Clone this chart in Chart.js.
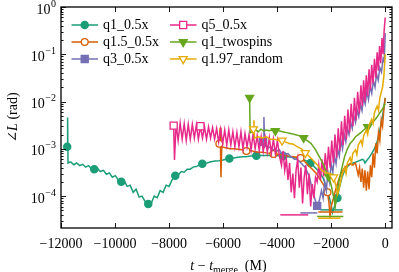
<!DOCTYPE html>
<html lang="en">
<head>
  <meta charset="UTF-8" />
  <title>Angle of L vs time to merger</title>
  <script src="https://cdn.jsdelivr.net/npm/chart.js"></script>
  <style>
    body { margin: 0; background: #fff; }
    .chart-container { position: relative; width: 399px; height: 272px; }
  </style>
</head>
<body>
  <div class="chart-container"><canvas id="angleChart"></canvas></div>

  <script>
    // Series names and colours (Dark2)
    const seriesNames = ['q1_0.5x', 'q1.5_0.5x', 'q3_0.5x', 'q5_0.5x', 'q1_twospins', 'q1.97_random'];
    const seriesColors = ['#1b9e77', '#d95f02', '#7570b3', '#e7298a', '#66a61e', '#e6ab02'];

    // Axis ticks
    const xTicks = [-12000, -10000, -8000, -6000, -4000, -2000, 0];
    const yTickExps = [0, -1, -2, -3, -4];

    // q1_0.5x
    const q1Time = [-11770, -11755, -11740, -11640, -11530, -11420, -11310, -11200, -11090, -10980, -10870, -10770,
      -10650, -10540, -10430, -10320, -10210, -10100, -9990, -9880, -9770, -9660, -9550, -9440, -9330, -9220, -9110,
      -9000, -8880, -8770, -8660, -8550, -8440, -8330, -8220, -8110, -8000, -7890, -7770, -7660, -7550, -7440, -7330,
      -7220, -7110, -7000, -6880, -6770, -6600, -6450, -6300, -6150, -6000, -5900, -5770, -5600, -5450, -5300, -5150,
      -5000, -4900, -4770, -4600, -4450, -4300, -4150, -4000, -3900, -3770, -3600, -3450, -3300, -3150, -3000, -2900,
      -2770, -2650, -2500, -2400, -2300, -2200, -2100, -2000, -1950, -1880, -1770, -1700, -1600, -1500, -1400, -1300,
      -1200, -1100, -1000, -900, -850, -800, -750, -700, -600, -500, -400, -300, -200, -100, 0];
    const q1Angle = [0.0011, 0.0046, 0.0005, 0.00053, 0.00046, 0.0005, 0.00044, 0.00047, 0.00041, 0.00044, 0.00038, 0.00037,
      0.00038, 0.00033, 0.00035, 0.00029, 0.00031, 0.00025, 0.00027, 0.00022, 0.0002, 0.00021, 0.00016, 0.00017, 0.00012,
      0.00014, 0.000095, 0.0001, 0.000075, 0.000068, 0.00007, 0.0001, 0.000092, 0.00013, 0.00012, 0.00017, 0.00016,
      0.00022, 0.00027, 0.00028, 0.00033, 0.00032, 0.00037, 0.00037, 0.00041, 0.00042, 0.00045, 0.00048, 0.0005, 0.00053,
      0.00055, 0.00056, 0.00058, 0.0006, 0.00062, 0.00064, 0.00066, 0.00068, 0.00068, 0.0007, 0.0007, 0.00071, 0.00072,
      0.00072, 0.00073, 0.00072, 0.00072, 0.0007, 0.0007, 0.00068, 0.00066, 0.00064, 0.00062, 0.00058, 0.00055, 0.0005,
      0.00043, 0.00035, 0.0003, 0.00024, 0.00017, 0.00011, 0.000065, 0.000045, 0.00006, 0.000091, 0.00015, 0.00025,
      0.00035, 0.00042, 0.00048, 0.0005, 0.00052, 0.00055, 0.00058, 0.0006, 0.00058, 0.0005, 0.00055, 0.00065, 0.0008,
      0.001, 0.0014, 0.0025, 0.005, 0.012];
    const q1Marks = [-11770, -10770, -9770, -8770, -7770, -6770, -5770, -4770, -3770, -2770, -1770];

    // q1.5_0.5x
    const q15Time = [-6140, -6110, -6080, -6050, -5900, -5750, -5600, -5450, -5300, -5137, -5000, -4850, -4700, -4550,
      -4400, -4250, -4137, -4000, -3850, -3700, -3550, -3400, -3250, -3137, -3000, -2850, -2700, -2550, -2400, -2250,
      -2137, -2080, -2040, -2000, -1900, -1800, -1700, -1600, -1500, -1400, -1300, -1200, -1100, -1000, -950, -900,
      -850, -800, -750, -700, -650, -600, -550, -500, -450, -400, -350, -300, -250, -200, -150, -100, -50, 0];
    const q15Angle = [0.00128, 0.0028, 0.00025, 0.0011, 0.00105, 0.001, 0.001, 0.00098, 0.00095, 0.0009, 0.00092,
      0.00088, 0.00085, 0.00085, 0.00082, 0.0008, 0.00078, 0.00077, 0.00075, 0.00072, 0.0007, 0.00068, 0.00066, 0.00064,
      0.00055, 0.00045, 0.00037, 0.0003, 0.00022, 0.00016, 0.00012, 0.00007, 0.000035, 0.00006, 0.0001, 0.00016, 0.00024,
      0.00033, 0.0004, 0.00045, 0.00048, 0.00045, 0.0005, 0.00028, 0.0004, 0.0002, 0.00038, 0.00015, 0.00035, 0.00013,
      0.00033, 0.00014, 0.00045, 0.00025, 0.0008, 0.0004, 0.0013, 0.0008, 0.0022, 0.0015, 0.004, 0.003, 0.007, 0.012];
    const q15Marks = [-6140, -5137, -4137, -3137, -2137];

    // q3_0.5x
    const q3Time = [-4520, -4490, -4460, -4400, -4320, -4240, -4160, -4080, -4000, -3920, -3840, -3760, -3680, -3600,
      -3520, -3440, -3360, -3280, -3200, -3120, -3040, -2960, -2880, -2800, -2720, -2640, -2520, -2440, -2360, -2300,
      -2240, -2180, -2120, -2060, -2000, -1940, -1880, -1820, -1760, -1700, -1640, -1580, -1520, -1460, -1400, -1340,
      -1280, -1220, -1160, -1100, -1040, -980, -920, -860, -800, -740, -680, -620, -560, -500, -440, -380, -320, -260,
      -200, -140, -80, -40, 0];
    const q3Angle = [0.0014, 0.0047, 0.0011, 0.0012, 0.00105, 0.0011, 0.00095, 0.001, 0.0009, 0.00095, 0.0008, 0.00085,
      0.00075, 0.0008, 0.0007, 0.00065, 0.0006, 0.0006, 0.00055, 0.0005, 0.00045, 0.0004, 0.00032, 0.00025, 0.00015,
      0.0001, 0.000062, 0.00008, 0.00013, 0.00009, 0.0002, 0.00013, 0.00032, 0.0002, 0.00048, 0.00032, 0.0007, 0.00048,
      0.001, 0.0007, 0.0015, 0.001, 0.002, 0.0014, 0.0027, 0.002, 0.0037, 0.0027, 0.005, 0.0036, 0.0066, 0.0048,
      0.0088, 0.0064, 0.012, 0.0088, 0.016, 0.011, 0.021, 0.015, 0.028, 0.02, 0.038, 0.028, 0.052, 0.042, 0.08, 0.07, 0.28];
    const q3Marks = [-4520, -2520];

    // q5_0.5x
    const q5Time = [-7830, -7800,
      -7740, -7665, -7590, -7515, -7440, -7365, -7290, -7215, -7140, -7065, -6990, -6915, -6840, -6765, -6690, -6615,
      -6540, -6465, -6390, -6315, -6240, -6165, -6090, -6015, -5940, -5865, -5790, -5715, -5640, -5565, -5490, -5415,
      -5340, -5265, -5190, -5115, -5040, -4965, -4890, -4815, -4740, -4665, -4590, -4515, -4440, -4365, -4290, -4215,
      -4140, -4065, -3990, -3915,
      -3840, -3780, -3720, -3660, -3600, -3540, -3480, -3420, -3360, -3300, -3240, -3180, -3120, -3060, -3000, -2940,
      -2880, -2820, -2760, -2700, -2640, -2580,
      -2520, -2460, -2400, -2340, -2280, -2220, -2160, -2100, -2040, -1980, -1920, -1860, -1800, -1740, -1680, -1620,
      -1560, -1500, -1440, -1380, -1320, -1260, -1200, -1140, -1080, -1020, -960, -900, -850, -800, -750, -700, -650,
      -600, -550, -500, -450, -400, -350, -300, -255, -210, -165, -120, -80, -40, 0];
    const q5Angle = [0.0031, 0.00058,
      0.0034, 0.0015, 0.0035, 0.0016, 0.0034, 0.0015, 0.0033, 0.0016, 0.0033, 0.0017, 0.0032, 0.0016, 0.003, 0.0017,
      0.0029, 0.0016, 0.0029, 0.0017, 0.0028, 0.0016, 0.0027, 0.0014, 0.0026, 0.0013, 0.0025, 0.0012, 0.0025, 0.0012,
      0.0023, 0.0011, 0.0022, 0.0011, 0.0023, 0.001, 0.0021, 0.0011, 0.002, 0.00095, 0.0021, 0.001, 0.0019, 0.00092,
      0.0018, 0.00088, 0.0017, 0.00085, 0.0017, 0.0008, 0.0016, 0.00078, 0.0015, 0.0007,
      0.00045, 0.0009, 0.00035, 0.0006, 0.00022, 0.0005, 0.00012, 0.0003, 0.00009, 0.00035, 0.0006, 0.00015, 0.0004,
      0.00007, 0.00025, 0.00045, 0.00011, 0.0003, 0.00006, 0.00018, 0.00009, 0.00025,
      0.0002, 0.00045, 0.00022, 0.0006, 0.00026, 0.0008, 0.00032, 0.0011, 0.0004, 0.0015, 0.0005, 0.002, 0.00065,
      0.0027, 0.0009, 0.0038, 0.0012, 0.005, 0.0016, 0.0068, 0.0022, 0.009, 0.003, 0.012, 0.004, 0.016, 0.0055, 0.022,
      0.008, 0.028, 0.01, 0.036, 0.013, 0.048, 0.018, 0.06, 0.024, 0.08, 0.032, 0.11, 0.045, 0.15, 0.065, 0.22, 0.1,
      0.32, 0.6];
    const q5Marks = [-7830, -6840];

    // q1_twospins
    const q1tsTime = [-5020, -5000, -4900, -4800, -4700, -4600, -4500, -4400, -4300, -4200, -4067, -3950, -3800, -3650,
      -3500, -3350, -3200, -3020, -2900, -2750, -2600, -2450, -2300, -2200, -2096, -2000, -1900, -1850, -1800, -1700,
      -1600, -1500, -1400, -1300, -1200, -1100, -1000, -900, -800, -654, -500, -400, -300, -200, -100, 0];
    const q1tsAngle = [0.012, 0.0022, 0.0023, 0.0025, 0.0023, 0.0026, 0.0024, 0.0025, 0.0024, 0.0025, 0.0024, 0.0024,
      0.0023, 0.0022, 0.0021, 0.002, 0.0019, 0.0017, 0.0015, 0.0013, 0.001, 0.0007, 0.00048, 0.00035, 0.00026, 0.00017,
      0.00009, 0.00006, 0.0001, 0.00023, 0.0004, 0.0007, 0.001, 0.0013, 0.0015, 0.0018, 0.002, 0.0022, 0.0025, 0.0029,
      0.0036, 0.004, 0.0047, 0.0058, 0.007, 0.009];
    const q1tsMarks = [-5020, -4067, -3020, -2096, -654];

    // q1.97_random
    const q197Time = [-4880, -4860, -4840, -4700, -4550, -4400, -4250, -4100, -3950, -3819, -3700, -3550, -3400, -3250,
      -3100, -2958, -2800, -2650, -2500, -2350, -2200, -2050, -1911, -1820, -1760, -1700, -1600, -1500, -1450, -1400,
      -1300, -1250, -1200, -1100, -1050, -1000, -900, -850, -800, -700, -650, -600, -500, -450, -400, -300, -250, -200,
      -100, -50, 0];
    const q197Angle = [0.0026, 0.004, 0.0017, 0.0018, 0.0017, 0.0018, 0.0016, 0.0016, 0.0015, 0.0015, 0.0014, 0.0013,
      0.00125, 0.0011, 0.001, 0.00082, 0.00068, 0.00055, 0.00045, 0.00035, 0.00031, 0.0003, 0.00025, 0.00016, 0.00011,
      0.00015, 0.00028, 0.0004, 0.0003, 0.0005, 0.00065, 0.0005, 0.0008, 0.00095, 0.00075, 0.0012, 0.0015, 0.0012,
      0.0019, 0.0025, 0.002, 0.0032, 0.0042, 0.0034, 0.0058, 0.008, 0.0065, 0.012, 0.02, 0.035, 0.1];
    const q197Marks = [-4880, -3819, -2958, -1911];

    // flat floor segments near the minimum, one per series
    const floorStart = [-2400, -2480, -3142, -3882, -2520, -2480];
    const floorEnd = [-1570, -1580, -2514, -2850, -1550, -1660];
    const floorAngle = [0.000051, 0.000046, 0.000044, 0.00004, 0.000037, 0.000034];

    const seriesTime = [q1Time, q15Time, q3Time, q5Time, q1tsTime, q197Time];
    const seriesAngle = [q1Angle, q15Angle, q3Angle, q5Angle, q1tsAngle, q197Angle];
    const seriesMarks = [q1Marks, q15Marks, q3Marks, q5Marks, q1tsMarks, q197Marks];
    const markerStyles = [
      { style: 'circle', fill: true, r: 3.6 },
      { style: 'circle', fill: false, r: 3.4 },
      { style: 'rect', fill: true, r: 5 },
      { style: 'rect', fill: false, r: 5 },
      { style: 'triangle', fill: true, r: 4.6 },
      { style: 'triangle', fill: false, r: 4.6 }
    ];

    const datasets = [];
    seriesNames.forEach((name, i) => {
      const marks = new Set(seriesMarks[i]);
      const m = markerStyles[i];
      datasets.push({
        label: name,
        data: seriesTime[i].map((t, k) => ({ x: t, y: seriesAngle[i][k] })),
        borderColor: seriesColors[i],
        borderWidth: 1.5,
        pointStyle: m.style,
        pointRotation: m.style === 'triangle' ? 180 : 0,
        pointRadius: c => marks.has(c.raw.x) ? m.r : 0,
        pointBorderWidth: 1.3,
        pointBorderColor: seriesColors[i],
        pointBackgroundColor: m.fill ? seriesColors[i] : '#fff',
        tension: 0,
        order: 2 * (seriesNames.length - i)
      });
      datasets.push({
        label: name + ' floor',
        data: [{ x: floorStart[i], y: floorAngle[i] }, { x: floorEnd[i], y: floorAngle[i] }],
        borderColor: seriesColors[i],
        borderWidth: 1.5,
        pointRadius: 0,
        order: 2 * (seriesNames.length - i) + 1
      });
    });

    // Frame, inward ticks, tick labels, axis titles and the legend
    const framePlugin = {
      id: 'frame',
      afterDraw(chart) {
        const { ctx, chartArea: a, scales: { x, y } } = chart;
        ctx.save();
        ctx.strokeStyle = '#000';
        ctx.fillStyle = '#000';

        // ticks
        ctx.lineWidth = 0.9;
        ctx.beginPath();
        xTicks.forEach(v => {
          const px = Math.round(x.getPixelForValue(v)) + 0.5;
          ctx.moveTo(px, a.bottom); ctx.lineTo(px, a.bottom - 5);
          ctx.moveTo(px, a.top); ctx.lineTo(px, a.top + 5);
        });
        for (let e = -5; e <= 0; e++) {
          for (let m = 1; m < 10; m++) {
            const v = m * Math.pow(10, e);
            if (v < y.min || v > y.max * 1.0001) continue;
            const py = Math.round(y.getPixelForValue(v)) + 0.5;
            const len = m === 1 ? 5 : 2.6;
            ctx.moveTo(a.left, py); ctx.lineTo(a.left + len, py);
            ctx.moveTo(a.right, py); ctx.lineTo(a.right - len, py);
          }
        }
        ctx.stroke();

        // frame
        ctx.lineWidth = 1.3;
        ctx.strokeRect(a.left, a.top, a.right - a.left, a.bottom - a.top);

        // x tick labels
        ctx.font = '14px "Liberation Serif", serif';
        ctx.textAlign = 'center';
        ctx.textBaseline = 'middle';
        xTicks.forEach(v => {
          const label = v < 0 ? '\u2212' + Math.abs(v) : String(v);
          ctx.fillText(label, x.getPixelForValue(v), a.bottom + 16);
        });

        // y tick labels 10^n
        yTickExps.forEach(e => {
          const py = y.getPixelForValue(Math.pow(10, e));
          const sup = e === 0 ? '0' : '\u2212' + Math.abs(e);
          ctx.font = '10px "Liberation Serif", serif';
          const wSup = ctx.measureText(sup).width;
          ctx.textAlign = 'left';
          ctx.fillText(sup, a.left - 5 - wSup, py - 3);
          ctx.font = '14px "Liberation Serif", serif';
          ctx.textAlign = 'right';
          ctx.fillText('10', a.left - 5 - wSup - 0.5, py + 3);
        });

        // x axis title: t − t_merge (M)
        const parts = [
          { s: 't', f: 'italic 14px "Liberation Serif", serif', dy: 0 },
          { s: ' \u2212 ', f: '14px "Liberation Serif", serif', dy: 0 },
          { s: 't', f: 'italic 14px "Liberation Serif", serif', dy: 0 },
          { s: 'merge', f: '10px "Liberation Serif", serif', dy: 3 },
          { s: '  (M)', f: '14px "Liberation Serif", serif', dy: 0 }
        ];
        let total = 0;
        parts.forEach(p => { ctx.font = p.f; p.w = ctx.measureText(p.s).width; total += p.w; });
        let cx = (a.left + a.right) / 2 - total / 2 + 2;
        ctx.textAlign = 'left';
        ctx.textBaseline = 'alphabetic';
        parts.forEach(p => { ctx.font = p.f; ctx.fillText(p.s, cx, 270 + p.dy); cx += p.w; });

        // y axis title: ∠L (rad)
        ctx.save();
        ctx.translate(17, (a.top + a.bottom) / 2);
        ctx.rotate(-Math.PI / 2);
        const yParts = [
          { s: '\u2220', f: '14px "DejaVu Serif", serif' },
          { s: 'L', f: 'italic 14px "Liberation Serif", serif' },
          { s: ' (rad)', f: '14px "Liberation Serif", serif' }
        ];
        total = 0;
        yParts.forEach(p => { ctx.font = p.f; p.w = ctx.measureText(p.s).width; total += p.w; });
        cx = -total / 2;
        yParts.forEach(p => { ctx.font = p.f; ctx.fillText(p.s, cx, 0); cx += p.w; });
        ctx.restore();

        // legend, two columns of three
        seriesNames.forEach((name, i) => {
          const col = Math.floor(i / 3), row = i % 3;
          const tx = col === 0 ? 103 : 201.5;
          const ty = 25 + row * 17;
          ctx.strokeStyle = seriesColors[i];
          ctx.lineWidth = 1.5;
          ctx.beginPath();
          ctx.moveTo(tx - 31.5, ty); ctx.lineTo(tx - 5, ty);
          ctx.stroke();
          drawMarker(ctx, tx - 18.3, ty, i);
          ctx.fillStyle = '#000';
          ctx.font = '14px "Liberation Serif", serif';
          ctx.textAlign = 'left';
          ctx.textBaseline = 'middle';
          ctx.fillText(name, tx, ty);
        });
        ctx.restore();
      }
    };

    function drawMarker(ctx, px, py, i) {
      const m = markerStyles[i];
      ctx.beginPath();
      if (m.style === 'circle') {
        ctx.arc(px, py, m.r, 0, Math.PI * 2);
      } else if (m.style === 'rect') {
        const h = m.r * Math.SQRT1_2;
        ctx.rect(px - h, py - h, 2 * h, 2 * h);
      } else {
        const h = m.r;
        ctx.moveTo(px - h * 0.87, py - h * 0.5);
        ctx.lineTo(px + h * 0.87, py - h * 0.5);
        ctx.lineTo(px, py + h);
        ctx.closePath();
      }
      ctx.fillStyle = m.fill ? seriesColors[i] : '#fff';
      ctx.fill();
      ctx.lineWidth = 1.3;
      ctx.strokeStyle = seriesColors[i];
      ctx.stroke();
    }

    const ctx = document.getElementById('angleChart').getContext('2d');
    const angleChart = new Chart(ctx, {
      type: 'line',
      data: { datasets: datasets },
      options: {
        responsive: true,
        maintainAspectRatio: false,
        animation: false,
        events: [],
        layout: { padding: { left: 61, right: 7, top: 7, bottom: 44 } },
        scales: {
          x: { type: 'linear', min: -12000, max: 250, display: false },
          y: { type: 'logarithmic', min: 2.11e-5, max: 1, display: false }
        },
        plugins: {
          legend: { display: false },
          tooltip: { enabled: false }
        }
      },
      plugins: [framePlugin]
    });
  </script>
</body>
</html>
